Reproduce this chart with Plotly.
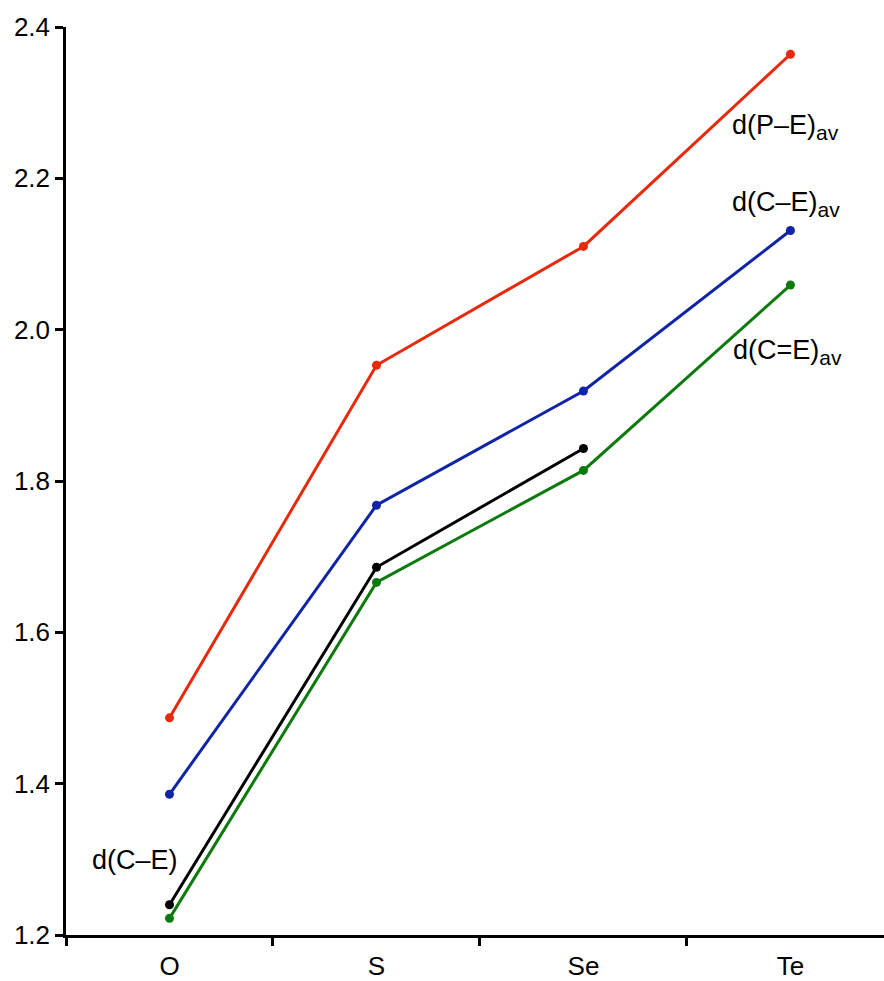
import plotly.graph_objects as go

categories = ["O", "S", "Se", "Te"]
d_PE_av = [1.487, 1.953, 2.110, 2.364]
d_CE_av = [1.386, 1.768, 1.919, 2.131]
d_CE = [1.240, 1.686, 1.843]
d_CdE_av = [1.222, 1.666, 1.814, 2.059]

colors = {"red": "#e8290b", "blue": "#1024a8", "black": "#000000", "green": "#0c7a0c"}

FONT = "Liberation Sans, Arial, Helvetica, sans-serif"
FS = 27
SUB = "<sub><span style='font-size:21px'>av</span></sub>"

fig = go.Figure()

def add(vals, color):
    xs = list(range(len(vals)))
    fig.add_trace(go.Scatter(x=xs, y=vals, mode="lines+markers",
                             line=dict(color=color, width=3),
                             marker=dict(color=color, size=9),
                             showlegend=False))

add(d_PE_av, colors["red"])
add(d_CE_av, colors["blue"])
add(d_CdE_av, colors["green"])
add(d_CE, colors["black"])

labels = [
    ("d(P–E)" + SUB, 2.708, 2.268, "left"),
    ("d(C–E)" + SUB, 2.708, 2.166, "left"),
    ("d(C=E)" + SUB, 2.713, 1.970, "left"),
    ("d(C–E)", -0.384, 1.299, "left"),
]
for t, x, y, xa in labels:
    fig.add_annotation(x=x, y=y, text=t, showarrow=False, xanchor=xa, yanchor="middle",
                       font=dict(family=FONT, size=FS, color="black"))

fig.update_xaxes(range=[-0.5, 3.452], tickvals=[0, 1, 2, 3], ticktext=categories,
                 ticks="", showgrid=False, zeroline=False, showline=True,
                 linecolor="black", linewidth=2.5, ticklabelstandoff=6,
                 tickfont=dict(family=FONT, size=FS - 1, color="black"),
                 minor=dict(tickvals=[-0.5, 0.5, 1.5, 2.5], ticks="outside", ticklen=8,
                            tickwidth=2.5, tickcolor="black", showgrid=False))
fig.update_yaxes(range=[1.2, 2.4], tickvals=[1.2, 1.4, 1.6, 1.8, 2.0, 2.2, 2.4],
                 ticktext=["1.2", "1.4", "1.6", "1.8", "2.0", "2.2", "2.4"],
                 ticks="outside", ticklen=8, tickwidth=2.5, tickcolor="black",
                 showgrid=False, zeroline=False, showline=True,
                 linecolor="black", linewidth=2.5,
                 tickfont=dict(family=FONT, size=FS - 1, color="black"))

fig.update_layout(width=884, height=981, margin=dict(l=66, r=0, t=27, b=43),
                  plot_bgcolor="white", paper_bgcolor="white")

fig.write_html("out.html")
